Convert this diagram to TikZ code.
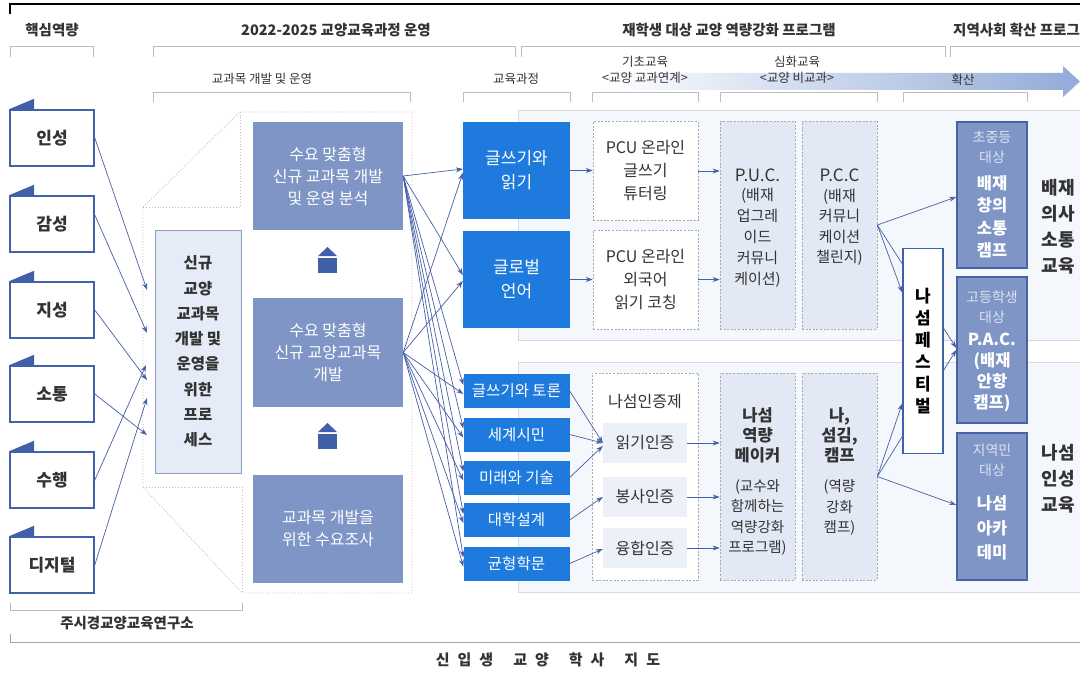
\documentclass[tikz,border=0pt]{standalone}
\usepackage{fontspec}
\setmainfont{Noto Sans CJK KR}
\usetikzlibrary{arrows.meta}
\definecolor{txt}{HTML}{333333}
\definecolor{coreb}{HTML}{4160AA}
\definecolor{slate}{HTML}{7E95C5}
\definecolor{cblue}{HTML}{1E7BDD}
\definecolor{rbord}{HTML}{4A62A5}
\definecolor{panelf}{HTML}{F4F7FC}
\definecolor{panelb}{HTML}{D3DAE6}
\definecolor{dashc}{HTML}{A9A9A9}
\definecolor{pucf}{HTML}{E2E9F4}
\definecolor{certf}{HTML}{ECF0F8}
\definecolor{arrowc}{HTML}{4560A8}
\definecolor{newf}{HTML}{E6ECF7}
\definecolor{newb}{HTML}{8C9DC2}
\definecolor{ltxt}{HTML}{DCE3F1}
\definecolor{brkc}{HTML}{BDBDBD}
\definecolor{gradc}{HTML}{93ABD8}
\begin{document}
\begin{tikzpicture}[x=1pt,y=-1pt,
  hdr/.style={font=\fontsize{14.5}{16}\selectfont\bfseries, text=txt, inner sep=0pt},
  sublbl/.style={font=\fontsize{12.5}{16}\selectfont, text=txt, align=center, inner sep=0pt},
  brk/.style={draw=brkc, line width=0.7pt},
  corebox/.style={draw=coreb, line width=1.6pt, fill=white, minimum width=84pt, minimum height=56pt, inner sep=0pt, font=\fontsize{17}{19}\selectfont\bfseries, text=txt},
  flag/.style={fill=coreb},
  slatebox/.style={fill=slate, minimum width=150pt, inner sep=0pt, text=white, align=center, font=\fontsize{16}{22}\selectfont},
  coursebig/.style={fill=cblue, minimum width=107pt, minimum height=97pt, inner sep=0pt, text=white, align=center, font=\fontsize{17}{24}\selectfont},
  coursesm/.style={fill=cblue, minimum width=106pt, minimum height=34pt, inner sep=0pt, text=white, align=center, font=\fontsize{15.5}{18}\selectfont},
  panel/.style={fill=panelf, draw=panelb, line width=0.8pt},
  dbox/.style={draw=dashc, dash pattern=on 2pt off 1.6pt, line width=0.7pt, inner sep=0pt, align=center, text=txt},
  certbox/.style={fill=certf, minimum width=84pt, minimum height=40pt, inner sep=0pt, text=txt, font=\fontsize{16}{18}\selectfont},
  rbox/.style={fill=slate, draw=rbord, line width=1.5pt, minimum width=70pt, inner sep=0pt},
  btxt/.style={align=center, inner sep=0pt},
  coltxt/.style={btxt, text=txt, font=\fontsize{15}{21}\selectfont},
  colbold/.style={btxt, text=txt, font=\fontsize{16.5}{20}\selectfont\bfseries},
  smalltxt/.style={btxt, text=ltxt, font=\fontsize{14}{20}\selectfont},
  whitetxt/.style={btxt, text=white, font=\fontsize{16.5}{22.5}\selectfont\bfseries},
  arr/.style={draw=arrowc, line width=0.7pt, -{Stealth[length=7pt,width=5pt]}},
  dotl/.style={draw=brkc, dotted, line width=0.9pt},
  rlbl/.style={font=\fontsize{18}{26}\selectfont\bfseries, text=txt, align=center, inner sep=0pt}
]
\useasboundingbox (0,0) rectangle (1080,674);
\fill[white] (0,0) rectangle (1080,674);

% frame lines
\draw[black, line width=1.4pt] (10,14) -- (10,4) -- (1080,4);
\draw[draw=gray!70, line width=0.8pt] (10,634) -- (10,642) -- (1080,642);

% headers
\node[hdr] (h1) at (52,30) {핵심역량};
\node[hdr] (h2) at (336,30) {2022-2025 교양교육과정 운영};
\node[hdr] (h3) at (729,30) {재학생 대상 교양 역량강화 프로그램};
\node[hdr, anchor=west] (h4) at (953,30) {지역사회 확산 프로그램};

% top brackets
\draw[brk] (10,57) -- (10,46) -- (93,46) -- (93,57);
\draw[brk] (153,57) -- (153,46) -- (515,46) -- (515,57);
\draw[brk] (521,57) -- (521,46) -- (945,46) -- (945,57);
\draw[brk] (950,57) -- (950,46) -- (1080,46);

% gradient arrow
\shade[left color=white, right color=gradc, draw=none]
  (600,73) -- (1063,73) -- (1063,66) -- (1080,81.5) -- (1063,97) -- (1063,90) -- (600,90) -- cycle;

% second-level labels
\node[sublbl] (l1) at (262,79) {교과목 개발 및 운영};
\node[sublbl] (l2) at (516,79) {교육과정};
\node[sublbl] (l3) at (645,70) {기초교육\\<교양 교과연계>};
\node[sublbl] (l4) at (797,70) {심화교육\\<교양 비교과>};
\node[sublbl] (l5) at (963,80) {확산};

% second-level brackets
\draw[brk] (153,102) -- (153,92) -- (410,92) -- (410,102);
\draw[brk] (463,102) -- (463,92) -- (570,92) -- (570,102);
\draw[brk] (592,102) -- (592,92) -- (698,92) -- (698,102);
\draw[brk] (720,102) -- (720,92) -- (877,92) -- (877,102);
\draw[brk] (903,102) -- (903,92) -- (1027,92) -- (1027,102);

% panels
\draw[panel] (518,110) rectangle (1090,340);
\draw[panel] (518,362) rectangle (1090,592);

% dotted zoom region
\draw[dotl] (143,207) -- (240,112) -- (412,112) -- (412,593) -- (242,593) -- (143,487) -- cycle;
\draw[dotl] (143,207) -- (240,207) -- (240,112);
\draw[dotl] (143,487) -- (242,487) -- (242,593);

% core competency boxes
\foreach \n/\t/\y in {k1/인성/138, k2/감성/224, k3/지성/310, k4/소통/394, k5/수행/480, k6/디지털/565}{
  \node[corebox] (\n) at (52,\y) {\t};
  \fill[flag] (\n.north west) -- ++(25,-10.5) -- ++(0,10.5) -- cycle;
}

% new course box
\node[fill=newf, draw=newb, line width=0.9pt, minimum width=86pt, minimum height=243pt, inner sep=0pt,
  align=center, text=txt, font=\fontsize{15.5}{25.3}\selectfont\bfseries] (nb) at (198,351.5)
  {신규\\교양\\교과목\\개발 및\\운영을\\위한\\프로\\세스};

% core arrows
\coordinate (e1) at (147,290);
\coordinate (e2) at (147,333);
\coordinate (e3) at (147,380);
\coordinate (e4) at (147,435);
\coordinate (e5) at (146,365);
\coordinate (e6) at (147,398);
\draw[arr] (k1.east) -- (e1);
\draw[arr] ([yshift=9pt]k2.east) -- (e2);
\draw[arr] (k3.east) -- (e3);
\draw[arr] (k4.east) -- (e4);
\draw[arr] (k5.east) -- (e5);
\draw[arr] (k6.east) -- (e6);

% slate boxes
\node[slatebox, minimum height=108pt] (s1) at (328,176) {수요 맞춤형\\신규 교과목 개발\\및 운영 분석};
\node[slatebox, minimum height=109pt] (s2) at (328,352.5) {수요 맞춤형\\신규 교양교과목\\개발};
\node[slatebox, minimum height=108pt] (s3) at (328,529) {교과목 개발을\\위한 수요조사};

% up arrows
\foreach \ty in {247,423}{
  \fill[coreb] (318,\ty+9) -- (327.5,\ty) -- (337,\ty+9) -- cycle;
  \fill[coreb] (318,\ty+11) rectangle (337,\ty+26);
}

% course boxes
\node[coursebig] (c1) at (516.5,170.5) {글쓰기와\\읽기};
\node[coursebig] (c2) at (516.5,279.5) {글로벌\\언어};
\node[coursesm] (d1) at (516.5,391) {글쓰기와 토론};
\node[coursesm] (d2) at (516.5,434.5) {세계시민};
\node[coursesm] (d3) at (516.5,477.5) {미래와 기술};
\node[coursesm] (d4) at (516.5,520) {대학설계};
\node[coursesm] (d5) at (516.5,563.5) {균형학문};

% fan-out arrows
\draw[arr] (s1.east) -- ([yshift=1.5pt]c1.west);
\draw[arr] (s2.east) -- ([yshift=-2.5pt]c1.west);
\draw[arr] (s1.east) -- ([yshift=4.5pt]c2.west);
\draw[arr] (s2.east) -- ([yshift=-1.5pt]c2.west);
\foreach \d in {d1,d2,d3,d4,d5}{
  \draw[arr] (s1.east) -- ([yshift=6pt]\d.west);
  \draw[arr] (s2.east) -- ([yshift=-3pt]\d.west);
}

% PCU boxes
\node[dbox, fill=white, minimum width=105pt, minimum height=99pt, font=\fontsize{16}{23}\selectfont] (p1) at (645.5,171) {PCU 온라인\\글쓰기\\튜터링};
\node[dbox, fill=white, minimum width=105pt, minimum height=99pt, font=\fontsize{16}{23}\selectfont] (p2) at (645.5,279.5) {PCU 온라인\\외국어\\읽기 코칭};

% P.U.C. and P.C.C
\node[dbox, fill=pucf, minimum width=75pt, minimum height=208pt] (puc) at (757.5,225) {};
\node[btxt, text=txt, font=\fontsize{17}{20}\selectfont] (puct1) at (757.5,175) {P.U.C.};
\node[coltxt] (puct2) at (757.5,238) {(배재\\업그레\\이드\\커뮤니\\케이션)};
\node[dbox, fill=pucf, minimum width=75pt, minimum height=208pt] (pcc) at (839.5,225) {};
\node[btxt, text=txt, font=\fontsize{17}{20}\selectfont] (pcct1) at (839.5,175) {P.C.C};
\node[coltxt, font=\fontsize{15}{20.5}\selectfont] (pcct2) at (839.5,227.5) {(배재\\커뮤니\\케이션\\챌린지)};

\draw[arr] (c1.east) -- (p1.west |- c1.east);
\draw[arr] (c2.east) -- (p2.west |- c2.east);
\draw[arr] (p1.east) -- (p1.east -| puc.west);
\draw[arr] (p2.east) -- (p2.east -| puc.west);

% certification box
\node[dbox, fill=white, minimum width=106pt, minimum height=207pt] (cert) at (645,476.5) {};
\node[text=txt, inner sep=0pt, font=\fontsize{16}{18}\selectfont] (certt) at (645,402) {나섬인증제};
\node[certbox] (r1c) at (645,443) {읽기인증};
\node[certbox] (r2c) at (645,497) {봉사인증};
\node[certbox] (r3c) at (645,548) {융합인증};

\node[dbox, fill=pucf, minimum width=75pt, minimum height=207pt] (mk) at (757.5,476.5) {};
\node[colbold] (mkt1) at (757.5,435) {나섬\\역량\\메이커};
\node[coltxt, font=\fontsize{14.5}{20.3}\selectfont] (mkt2) at (757.5,517.5) {(교수와\\함께하는\\역량강화\\프로그램)};
\node[dbox, fill=pucf, minimum width=75pt, minimum height=207pt] (cp) at (839.5,476.5) {};
\node[colbold] (cpt1) at (839.5,435) {나,\\섬김,\\캠프};
\node[coltxt, font=\fontsize{14.5}{20.3}\selectfont] (cpt2) at (839.5,507.5) {(역량\\강화\\캠프)};

\draw[arr] (d1.east) -- (r1c.west);
\draw[arr] (d2.east) -- (r1c.west);
\draw[arr] (d3.east) -- ([yshift=-3pt]r1c.west);
\draw[arr] (d4.east) -- (r2c.west);
\draw[arr] (d5.east) -- ([yshift=-1pt]r3c.west);
\draw[arr] (r1c.east) -- (r1c.east -| mk.west);
\draw[arr] (r2c.east) -- (r2c.east -| mk.west);
\draw[arr] (r3c.east) -- (r3c.east -| mk.west);

% right boxes
\node[rbox, minimum height=146pt] (q1) at (992,195) {};
\node[smalltxt] (q1a) at (992,147) {초중등\\대상};
\node[whitetxt] (q1b) at (992,216.5) {배재\\창의\\소통\\캠프};
\node[rbox, minimum height=146pt] (q2) at (992,350) {};
\node[smalltxt] (q2a) at (992,307) {고등학생\\대상};
\node[whitetxt, font=\fontsize{16.5}{21}\selectfont\bfseries] (q2b) at (992,372) {P.A.C.\\(배재\\안항\\캠프)};
\node[rbox, minimum height=147pt] (q3) at (992,506.5) {};
\node[smalltxt] (q3a) at (992,460) {지역민\\대상};
\node[whitetxt, font=\fontsize{16.5}{24.5}\selectfont\bfseries] (q3b) at (992,528) {나섬\\아카\\데미};

% arrows passing behind the festival box
\draw[arr] (pcc.east) -- ([yshift=2pt]q2.west);
\draw[arr] (cp.east) -- (q2.west);

% festival box
\node[fill=white, draw=coreb, line width=1.5pt, minimum width=40pt, minimum height=205pt, inner sep=0pt,
  align=center, text=black, font=\fontsize{17}{22}\selectfont\bfseries] (fest) at (923,351) {나\\섬\\페\\스\\티\\벌};

\draw[arr] (pcc.east) -- ([yshift=-2pt]q1.west);
\draw[arr] (pcc.east) -- ([yshift=58.5pt]fest.west);
\draw[arr] (cp.east) -- ([yshift=-52.5pt]fest.west);
\draw[arr] (cp.east) -- ([yshift=1.5pt]q3.west);

% right labels
\node[rlbl] (lab1) at (1058,227) {배재\\의사\\소통\\교육};
\node[rlbl] (lab2) at (1058,479) {나섬\\인성\\교육};

% bottom-left bracket
\draw[brk] (10,603) -- (10,610) -- (242,610) -- (242,603);
\node[font=\fontsize{14.5}{16}\selectfont\bfseries, text=txt, inner sep=0pt] (inst) at (127,623) {주시경교양교육연구소};

% bottom title
\node[font=\fontsize{15}{18}\selectfont\bfseries, text=txt, inner sep=0pt] (ttl) at (548,660)
  {신\hspace{8pt}입\hspace{8pt}생\hspace{20pt}교\hspace{8pt}양\hspace{20pt}학\hspace{8pt}사\hspace{20pt}지\hspace{8pt}도};
\end{tikzpicture}
\end{document}
